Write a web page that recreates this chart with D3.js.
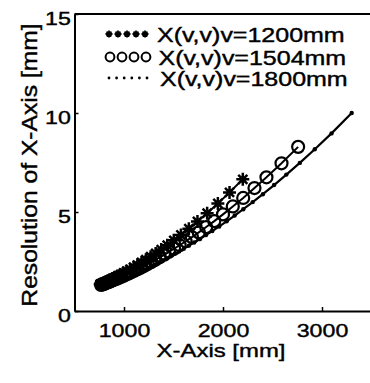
<!DOCTYPE html>
<script src="https://cdn.jsdelivr.net/npm/d3@7"></script>
<html>
    <body style="margin:0;background:#fff">
        <div id="chart-div"></div>
        <script>
            // data
            const xTicks = [1000, 2000, 3000];
            const yTicks = [0, 5, 10, 15];
            const legendLabels = ["X(v,v)v=1200mm", "X(v,v)v=1504mm", "X(v,v)v=1800mm"];

            // v = 1200mm (stars)
            const starX = [2200, 2066, 1948, 1840, 1742, 1655, 1575, 1503, 1437, 1376, 1320, 1269, 1221, 1177, 1135,
                1097, 1061, 1027, 995, 965, 937, 910, 885, 862, 839, 818, 798, 779, 760];
            const starY = [6.65, 5.99, 5.43, 4.94, 4.52, 4.16, 3.84, 3.57, 3.32, 3.10, 2.91, 2.74, 2.59, 2.45, 2.32,
                2.21, 2.10, 2.01, 1.92, 1.84, 1.77, 1.70, 1.64, 1.58, 1.53, 1.48, 1.43, 1.39, 1.35];

            // v = 1504mm (circles)
            const circX = [2759, 2591, 2439, 2318, 2204, 2099, 2000, 1912, 1830, 1755, 1686, 1622, 1562, 1506, 1454,
                1406, 1360, 1317, 1277, 1239, 1203, 1169, 1137, 1106, 1077, 1049, 1023, 998, 974, 951,
                929, 908, 888, 869, 850, 832, 815, 799, 783, 768];
            const circY = [8.29, 7.46, 6.75, 6.21, 5.71, 5.28, 4.88, 4.54, 4.24, 3.97, 3.73, 3.52, 3.32, 3.15, 2.99,
                2.84, 2.71, 2.59, 2.48, 2.37, 2.28, 2.19, 2.11, 2.04, 1.97, 1.90, 1.84, 1.78, 1.73, 1.68,
                1.63, 1.59, 1.55, 1.51, 1.47, 1.44, 1.40, 1.37, 1.34, 1.32];

            // v = 1800mm (dots)
            const dotX = [3300, 3096, 2927, 2776, 2640, 2516, 2403, 2300, 2205, 2118, 2037, 1962, 1892, 1827, 1766,
                1709, 1655, 1604, 1557, 1512, 1469, 1429, 1390, 1354, 1319, 1286, 1255, 1224, 1196, 1168,
                1142, 1117, 1093, 1070, 1048, 1026, 1006, 986, 967, 949, 931, 914, 898, 882, 867,
                852, 837, 824, 810, 797, 785, 772, 760];
            const dotY = [10.0, 8.97, 8.17, 7.48, 6.89, 6.36, 5.90, 5.50, 5.14, 4.82, 4.53, 4.27, 4.04, 3.83, 3.63,
                3.46, 3.30, 3.15, 3.01, 2.89, 2.77, 2.66, 2.56, 2.47, 2.34, 2.25, 2.17, 2.09, 2.02, 1.95,
                1.89, 1.83, 1.77, 1.72, 1.67, 1.63, 1.59, 1.55, 1.51, 1.48, 1.45, 1.42, 1.39, 1.37, 1.35,
                1.33, 1.31, 1.29, 1.28, 1.27, 1.26, 1.25, 1.24];

            const width = 370, height = 383;
            const font = "'Liberation Sans', Arial, Helvetica, sans-serif";
            const stretch = 1.22; // glyphs in the picture are wider than plain Arial

            const svg = d3.select("#chart-div")
                .append("svg")
                .attr("width", width)
                .attr("height", height)
                .style("background", "#fff");

            const x = d3.scaleLinear().domain([500, 3500]).range([74.5, 371.5]);
            const y = d3.scaleLinear().domain([0, 15]).range([311, 14]);

            // box: top line (right side is cut off in the picture)
            svg.append("line")
                .attr("x1", x(500)).attr("x2", width)
                .attr("y1", y(15)).attr("y2", y(15))
                .attr("stroke", "#000").attr("stroke-width", 2);

            // x axis
            const xAxis = svg.append("g")
                .attr("transform", "translate(0," + y(0) + ")")
                .call(d3.axisBottom(x).tickValues(xTicks).tickFormat(d3.format("d"))
                    .tickSizeInner(-4).tickSizeOuter(0));
            xAxis.select(".domain").attr("stroke-width", 2);
            xAxis.selectAll(".tick line").attr("stroke-width", 1.5);
            xAxis.selectAll("text")
                .attr("y", 26).attr("dy", null)
                .attr("fill", "#000")
                .style("font-family", font).style("font-size", "19px")
                .attr("stroke", "#000").attr("stroke-width", 0.4)
                .attr("transform", "scale(" + stretch + ",1)");

            // y axis
            const yAxis = svg.append("g")
                .attr("transform", "translate(" + x(500) + ",0)")
                .call(d3.axisLeft(y).tickValues(yTicks).tickFormat(d3.format("d"))
                    .tickSizeInner(-4).tickSizeOuter(0));
            yAxis.select(".domain").attr("stroke-width", 2);
            yAxis.selectAll(".tick line").attr("stroke-width", 1.5);
            yAxis.selectAll("text")
                .attr("x", -3).attr("dy", null).attr("y", 10)
                .attr("fill", "#000")
                .style("font-family", font).style("font-size", "19px")
                .attr("stroke", "#000").attr("stroke-width", 0.4)
                .attr("transform", "scale(" + stretch + ",1)");

            // axis titles
            svg.append("text")
                .attr("transform", "translate(221,357) scale(1.26,1)")
                .attr("text-anchor", "middle")
                .style("font-family", font).style("font-size", "19px")
                .attr("stroke", "#000").attr("stroke-width", 0.4)
                .text("X-Axis [mm]");

            svg.append("text")
                .attr("transform", "translate(37,165) rotate(-90) scale(1.12,1)")
                .attr("text-anchor", "middle")
                .style("font-family", font).style("font-size", "22px")
                .attr("stroke", "#000").attr("stroke-width", 0.4)
                .text("Resolution of X-Axis [mm]");

            // marker shapes
            function starPath(r) {
                const a = r * 0.7;
                return "M" + (-r) + ",0L" + r + ",0M0," + (-r) + "L0," + r +
                    "M" + (-a) + "," + (-a) + "L" + a + "," + a +
                    "M" + (-a) + "," + a + "L" + a + "," + (-a);
            }

            const line = d3.line()
                .x(function (d) { return x(d[0]); })
                .y(function (d) { return y(d[1]); });

            const starData = d3.zip(starX, starY);
            const circData = d3.zip(circX, circY);
            const dotData = d3.zip(dotX, dotY);

            const plot = svg.append("g");

            // v=1800 line with dots
            plot.append("path")
                .datum(dotData)
                .attr("d", line)
                .attr("fill", "none").attr("stroke", "#000").attr("stroke-width", 2.2);
            plot.selectAll(".dot")
                .data(dotData)
                .enter()
                .append("circle")
                .attr("class", "dot")
                .attr("cx", function (d) { return x(d[0]); })
                .attr("cy", function (d) { return y(d[1]); })
                .attr("r", 2.2)
                .attr("fill", "#000");

            // v=1504 line with circles
            plot.append("path")
                .datum(circData)
                .attr("d", line)
                .attr("fill", "none").attr("stroke", "#000").attr("stroke-width", 2);
            plot.selectAll(".circ")
                .data(circData)
                .enter()
                .append("circle")
                .attr("class", "circ")
                .attr("cx", function (d) { return x(d[0]); })
                .attr("cy", function (d) { return y(d[1]); })
                .attr("r", 6)
                .attr("fill", "none")
                .attr("stroke", "#000").attr("stroke-width", 2.2);

            // v=1200 line with stars
            plot.append("path")
                .datum(starData)
                .attr("d", line)
                .attr("fill", "none").attr("stroke", "#000").attr("stroke-width", 2);
            plot.selectAll(".star")
                .data(starData)
                .enter()
                .append("path")
                .attr("class", "star")
                .attr("transform", function (d) { return "translate(" + x(d[0]) + "," + y(d[1]) + ")"; })
                .attr("d", starPath(6.5))
                .attr("fill", "none")
                .attr("stroke", "#000").attr("stroke-width", 2.5);

            // legend
            const legend = svg.append("g");
            const rowY = [34, 57, 78];

            // row 1: small stars
            legend.selectAll(".lstar")
                .data(d3.range(5))
                .enter()
                .append("path")
                .attr("class", "lstar")
                .attr("transform", function (i) { return "translate(" + (109 + i * 9) + "," + rowY[0] + ")"; })
                .attr("d", starPath(3.5))
                .attr("stroke", "#000").attr("stroke-width", 1.8);

            // row 2: circles
            legend.selectAll(".lcirc")
                .data(d3.range(4))
                .enter()
                .append("circle")
                .attr("class", "lcirc")
                .attr("cx", function (i) { return 110 + i * 12; })
                .attr("cy", rowY[1])
                .attr("r", 4.4)
                .attr("fill", "none")
                .attr("stroke", "#000").attr("stroke-width", 2);

            // row 3: dots
            legend.selectAll(".ldot")
                .data(d3.range(6))
                .enter()
                .append("circle")
                .attr("class", "ldot")
                .attr("cx", function (i) { return 109 + i * 7.6; })
                .attr("cy", rowY[2])
                .attr("r", 1.4)
                .attr("fill", "#000");

            legend.selectAll(".ltext")
                .data(legendLabels)
                .enter()
                .append("text")
                .attr("class", "ltext")
                .attr("transform", function (d, i) { return "translate(" + (157 + i * 1.5) + "," + (rowY[i] + 8) + ") scale(1.25,1)"; })
                .style("font-family", font).style("font-size", "20px")
                .attr("stroke", "#000").attr("stroke-width", 0.4)
                .text(function (d) { return d; });
        </script>
    </body>
</html>
